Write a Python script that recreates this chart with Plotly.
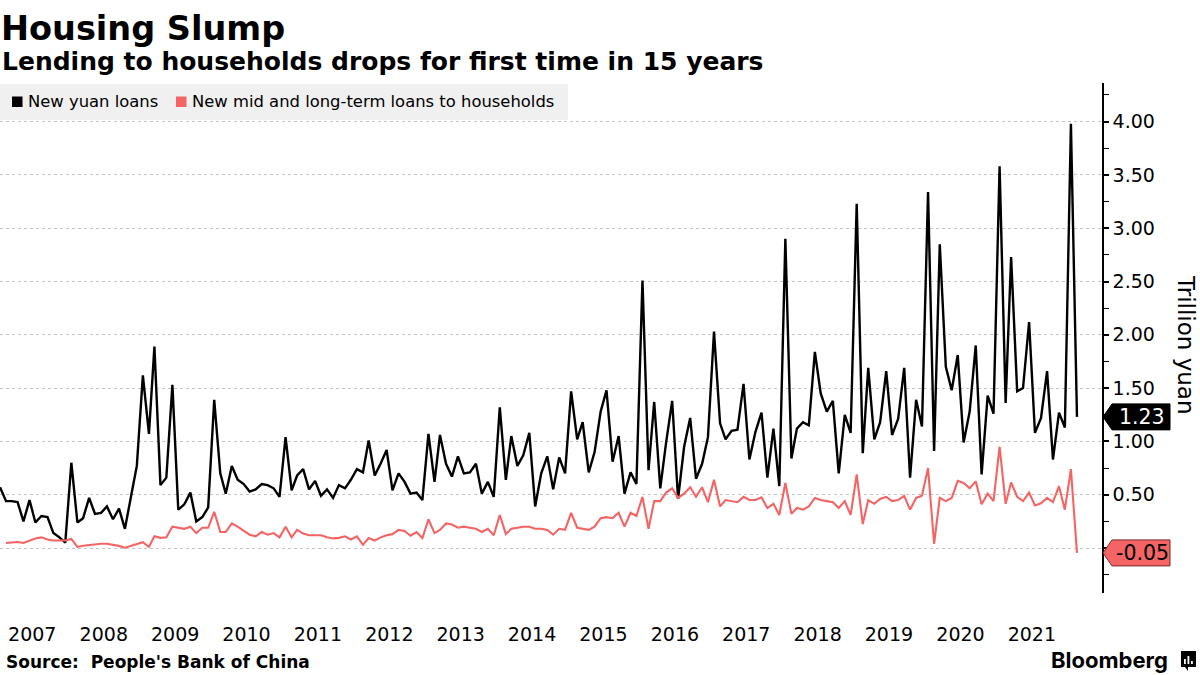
import plotly.graph_objects as go
import pandas as pd

# ---------------- data (trillion yuan, monthly Jan 2007 - Feb 2022) ----------------
months = pd.date_range("2007-01-01", "2022-02-01", freq="MS")

new_yuan_loans = [
    # 2007
    0.57, 0.44, 0.44, 0.43, 0.25, 0.45, 0.24, 0.30, 0.29, 0.14, 0.10, 0.05,
    # 2008
    0.80, 0.24, 0.28, 0.47, 0.32, 0.33, 0.39, 0.27, 0.37, 0.18, 0.48, 0.77,
    # 2009
    1.62, 1.07, 1.89, 0.59, 0.66, 1.53, 0.36, 0.41, 0.52, 0.25, 0.29, 0.38,
    # 2010
    1.39, 0.70, 0.51, 0.77, 0.64, 0.60, 0.53, 0.55, 0.60, 0.59, 0.56, 0.48,
    # 2011
    1.04, 0.54, 0.68, 0.74, 0.55, 0.63, 0.49, 0.55, 0.47, 0.59, 0.56, 0.64,
    # 2012
    0.74, 0.71, 1.01, 0.68, 0.79, 0.92, 0.54, 0.70, 0.62, 0.51, 0.52, 0.45,
    # 2013
    1.07, 0.62, 1.06, 0.79, 0.67, 0.86, 0.70, 0.71, 0.79, 0.51, 0.62, 0.48,
    # 2014
    1.32, 0.64, 1.05, 0.77, 0.87, 1.08, 0.39, 0.70, 0.86, 0.55, 0.85, 0.70,
    # 2015
    1.47, 1.02, 1.18, 0.71, 0.90, 1.28, 1.48, 0.81, 1.05, 0.51, 0.71, 0.60,
    # 2016
    2.51, 0.73, 1.37, 0.56, 0.99, 1.38, 0.46, 0.95, 1.22, 0.65, 0.79, 1.04,
    # 2017
    2.03, 1.17, 1.02, 1.10, 1.11, 1.54, 0.83, 1.09, 1.27, 0.66, 1.12, 0.58,
    # 2018
    2.90, 0.84, 1.12, 1.18, 1.15, 1.84, 1.45, 1.28, 1.38, 0.70, 1.25, 1.08,
    # 2019
    3.23, 0.89, 1.69, 1.02, 1.18, 1.66, 1.06, 1.21, 1.69, 0.66, 1.39, 1.14,
    # 2020
    3.34, 0.91, 2.85, 1.70, 1.48, 1.81, 0.99, 1.28, 1.90, 0.69, 1.43, 1.26,
    # 2021
    3.58, 1.36, 2.73, 1.47, 1.50, 2.12, 1.08, 1.22, 1.66, 0.83, 1.27, 1.13,
    # 2022
    3.98, 1.23,
]

household_mlt_loans = [
    # 2007
    None, 0.047, 0.053, 0.056, 0.047, 0.07, 0.09, 0.10, 0.08, 0.07, 0.07, 0.07,
    # 2008
    0.085, 0.01, 0.022, 0.03, 0.037, 0.04, 0.04, 0.03, 0.02, 0.003, 0.02, 0.04,
    # 2009
    0.055, 0.01, 0.11, 0.095, 0.10, 0.20, 0.19, 0.18, 0.20, 0.14, 0.19, 0.19,
    # 2010
    0.34, 0.15, 0.15, 0.23, 0.20, 0.16, 0.125, 0.11, 0.15, 0.125, 0.14, 0.10,
    # 2011
    0.20, 0.10, 0.17, 0.135, 0.12, 0.12, 0.12, 0.10, 0.09, 0.095, 0.11, 0.08,
    # 2012
    0.11, 0.03, 0.094, 0.07, 0.10, 0.12, 0.13, 0.17, 0.16, 0.115, 0.15, 0.094,
    # 2013
    0.27, 0.14, 0.17, 0.23, 0.22, 0.19, 0.20, 0.19, 0.18, 0.15, 0.18, 0.12,
    # 2014
    0.31, 0.13, 0.18, 0.19, 0.20, 0.20, 0.18, 0.18, 0.17, 0.125, 0.18, 0.17,
    # 2015
    0.33, 0.19, 0.18, 0.17, 0.20, 0.28, 0.29, 0.28, 0.33, 0.20, 0.33, 0.30,
    # 2016
    0.48, 0.18, 0.44, 0.44, 0.52, 0.56, 0.47, 0.51, 0.57, 0.48, 0.57, 0.43,
    # 2017
    0.64, 0.39, 0.45, 0.44, 0.43, 0.48, 0.45, 0.45, 0.475, 0.375, 0.415, 0.31,
    # 2018
    0.61, 0.32, 0.375, 0.36, 0.39, 0.47, 0.45, 0.44, 0.43, 0.375, 0.44, 0.31,
    # 2019
    0.69, 0.225, 0.45, 0.415, 0.46, 0.48, 0.44, 0.45, 0.49, 0.36, 0.47, 0.49,
    # 2020
    0.75, 0.04, 0.47, 0.44, 0.47, 0.63, 0.61, 0.56, 0.625, 0.41, 0.51, 0.44,
    # 2021
    0.95, 0.415, 0.615, 0.48, 0.44, 0.52, 0.40, 0.42, 0.47, 0.43, 0.58, 0.36,
    # 2022
    0.74, -0.046,
]

year_labels = [str(y) for y in range(2007, 2022)]
year_tick_dates = [f"{y}-06-15" for y in range(2007, 2022)]
y_tickvals = [0, 0.5, 1.0, 1.5, 2.0, 2.5, 3.0, 3.5, 4.0]
y_ticktext = [""] + [f"{v:.2f}" for v in y_tickvals[1:]]

series_names = ["New yuan loans", "New mid and long-term loans to households"]
BLACK = "#000000"
RED = "#f46464"

# ---------------- geometry helpers ----------------
W, H = 1200, 675
M_L, M_R, M_T, M_B = 0, 98, 83, 82
PW, PH = W - M_L - M_R, H - M_T - M_B
Y_MIN, Y_MAX = -0.422, 4.362


def px_x(px):
    return (px - M_L) / PW


def px_y(py):
    return (H - M_B - py) / PH


def val_y(v):
    return (v - Y_MIN) / (Y_MAX - Y_MIN)


FONT = "DejaVu Sans"
BOLD = "DejaVu Sans"

fig = go.Figure()
fig.add_trace(go.Scatter(x=months, y=new_yuan_loans, mode="lines",
                         line=dict(color=BLACK, width=2.4), name=series_names[0],
                         showlegend=False))
fig.add_trace(go.Scatter(x=months, y=household_mlt_loans, mode="lines",
                         line=dict(color=RED, width=2.1), name=series_names[1],
                         showlegend=False))

shapes = []
annotations = []

# legend box
shapes.append(dict(type="rect", xref="paper", yref="paper", x0=px_x(0), x1=px_x(568),
                   y0=px_y(120), y1=px_y(84), fillcolor="#f0f0f0", line=dict(width=0),
                   layer="above"))
for sx, col, tx, name in [(12, BLACK, 26, series_names[0]), (176, RED, 190, series_names[1])]:
    shapes.append(dict(type="rect", xref="paper", yref="paper", x0=px_x(sx), x1=px_x(sx + 10.5),
                       y0=px_y(107), y1=px_y(96.5), fillcolor=col, line=dict(width=0),
                       layer="above"))
    annotations.append(dict(xref="paper", yref="paper", x=px_x(tx), y=px_y(102),
                            xanchor="left", yanchor="middle", showarrow=False, text=name,
                            font=dict(family=FONT, size=16.4, color="#000")))

# last value tags
last_black = new_yuan_loans[-1]
last_red = household_mlt_loans[-1]
for v, fill, txtcol, border in [(last_black, BLACK, "#ffffff", BLACK),
                                (last_red, RED, "#000000", "#7a2a2a")]:
    shapes.append(dict(type="path", xref="paper", yref="paper",
                       xsizemode="pixel", ysizemode="pixel", xanchor=1, yanchor=val_y(v),
                       path="M1,0 L10,13 L68,13 L68,-13 L10,-13 Z",
                       fillcolor=fill, line=dict(color=border, width=1), layer="above"))
    annotations.append(dict(xref="paper", yref="y", x=1, y=v, xanchor="center",
                            yanchor="middle", xshift=40, showarrow=False,
                            text=f"{v:.2f}", font=dict(family=FONT, size=20.5, color=txtcol)))

# axis title
annotations.append(dict(xref="paper", yref="paper", x=px_x(1186), y=px_y(345),
                        xanchor="center", yanchor="middle", textangle=90, showarrow=False,
                        text="Trillion yuan", font=dict(family=FONT, size=23, color="#000")))

# titles
annotations.append(dict(xref="paper", yref="paper", x=px_x(-1), y=px_y(29),
                        xanchor="left", yanchor="middle", showarrow=False,
                        text="<b>Housing Slump</b>",
                        font=dict(family=BOLD, size=33.5, color="#000")))
annotations.append(dict(xref="paper", yref="paper", x=px_x(0), y=px_y(62),
                        xanchor="left", yanchor="middle", showarrow=False,
                        text="<b>Lending to households drops for first time in 15 years</b>",
                        font=dict(family=BOLD, size=25, color="#000")))
annotations.append(dict(xref="paper", yref="paper", x=px_x(4), y=px_y(662),
                        xanchor="left", yanchor="middle", showarrow=False,
                        text="<b>Source:  People's Bank of China</b>",
                        font=dict(family=BOLD, size=17, color="#000")))
annotations.append(dict(xref="paper", yref="paper", x=px_x(1170), y=px_y(660),
                        xanchor="right", yanchor="middle", showarrow=False,
                        text="<b>Bloomberg</b>",
                        font=dict(family="Inter", size=22, color="#000")))
# Bloomberg icon
shapes.append(dict(type="rect", xref="paper", yref="paper", x0=px_x(1181), x1=px_x(1196),
                   y0=px_y(667), y1=px_y(651), fillcolor="#000", line=dict(width=0)))
shapes.append(dict(type="path", xref="paper", yref="paper",
                   path=f"M{px_x(1185)},{px_y(667)} L{px_x(1188)},{px_y(671)} L{px_x(1188)},{px_y(667)} Z",
                   fillcolor="#000", line=dict(width=0)))
for bx, top in [(1184, 659), (1187.5, 656), (1191, 661)]:
    shapes.append(dict(type="rect", xref="paper", yref="paper", x0=px_x(bx), x1=px_x(bx + 1.8),
                       y0=px_y(664), y1=px_y(top), fillcolor="#fff", line=dict(width=0)))

fig.update_layout(
    width=W, height=H,
    margin=dict(l=M_L, r=M_R, t=M_T, b=M_B, pad=0),
    paper_bgcolor="white", plot_bgcolor="white",
    showlegend=False,
    shapes=shapes, annotations=annotations,
    xaxis=dict(type="date", range=["2007-01-01", "2022-06-09"],
               tickmode="array", tickvals=year_tick_dates, ticktext=year_labels,
               showgrid=False, showline=False, zeroline=False,
               ticks="outside", ticklen=24, tickcolor="rgba(0,0,0,0)",
               tickfont=dict(family=FONT, size=19, color="#000")),
    yaxis=dict(side="right", range=[Y_MIN, Y_MAX],
               tickmode="array", tickvals=y_tickvals, ticktext=y_ticktext,
               showgrid=True, gridcolor="#c4c4c4", griddash="dot", gridwidth=1,
               showline=True, linecolor="#000", linewidth=1.5, zeroline=False,
               ticks="outside", ticklen=5, tickwidth=2, tickcolor="#000",
               minor=dict(tickmode="linear", tick0=0, dtick=0.25, ticks="outside",
                          ticklen=5, tickwidth=1, tickcolor="#000", showgrid=False),
               tickfont=dict(family=FONT, size=19, color="#000")),
)

fig.write_html("out.html", config={"displayModeBar": False},
               post_script="document.body.style.margin='0';document.body.style.overflow='hidden';")
